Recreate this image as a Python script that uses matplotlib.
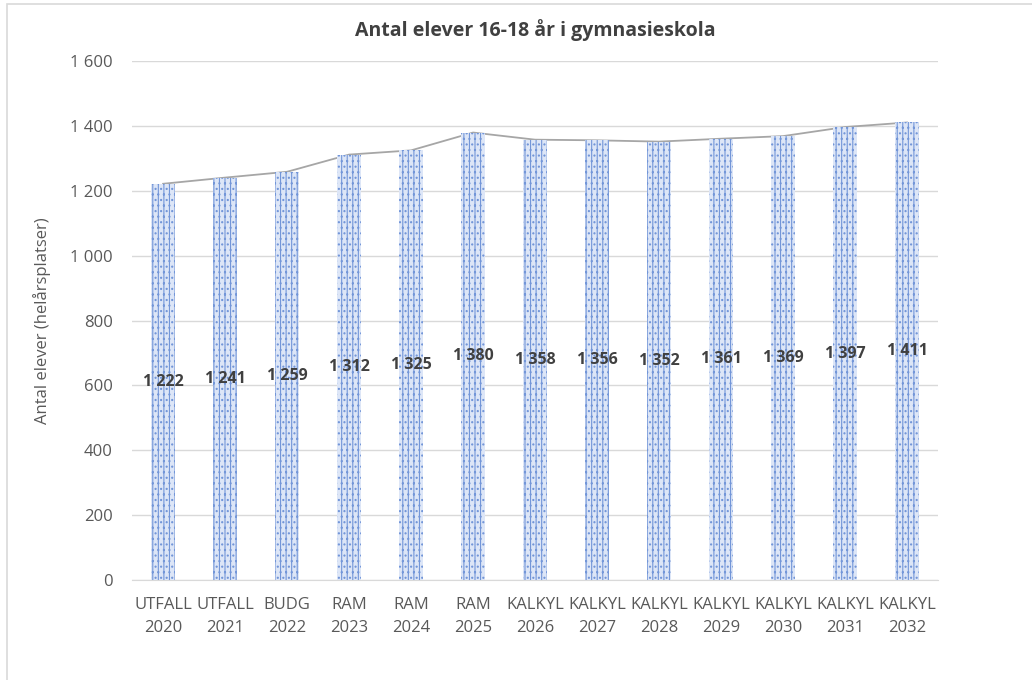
'''Antal elever 16-18 år i gymnasieskola'''

import matplotlib.pyplot as plt
from matplotlib.patches import Rectangle

# data
categories = ['UTFALL\n2020', 'UTFALL\n2021', 'BUDG\n2022', 'RAM\n2023', 'RAM\n2024',
              'RAM\n2025', 'KALKYL\n2026', 'KALKYL\n2027', 'KALKYL\n2028', 'KALKYL\n2029',
              'KALKYL\n2030', 'KALKYL\n2031', 'KALKYL\n2032']
elever = [1222, 1241, 1259, 1312, 1325, 1380, 1358, 1356, 1352, 1361, 1369, 1397, 1411]
yticks = [0, 200, 400, 600, 800, 1000, 1200, 1400, 1600]


def fmt(v):
    '''swedish thousands separator'''
    return f"{v:,}".replace(',', ' ')


def main():
    '''draw and save'''
    plt.rcParams['font.family'] = ['Open Sans', 'DejaVu Sans']
    plt.rcParams['hatch.linewidth'] = 0.8

    fig = plt.figure(figsize=(10.32, 6.8), dpi=100)
    ax = fig.add_axes([0.128, 0.147, 0.781, 0.763])

    # outer frame of the chart (only left and top visible)
    fig.patches.append(Rectangle((0.007, -0.1), 1.1, 1.094, transform=fig.transFigure,
                                 fill=False, edgecolor='#d9d9d9', linewidth=1.2))

    x = list(range(len(categories)))
    # line behind the bars
    ax.plot(x, elever, color='#a6a6a6', linewidth=1.3, zorder=2)
    # dotted blue fill: hatch takes the edge colour
    ax.bar(x, elever, width=0.4, color='#dde6f7', edgecolor='#7396d8',
           hatch='|||...', linewidth=0, zorder=3)

    for xi, v in zip(x, elever):
        ax.text(xi, v / 2, fmt(v), ha='center', va='center', fontsize=11.5,
                fontweight='bold', color='#404040', zorder=5)

    ax.set_xlim(-0.5, len(categories) - 0.5)
    ax.set_ylim(0, 1600)
    ax.set_yticks(yticks)
    ax.set_yticklabels([fmt(t) for t in yticks], fontsize=12, color='#595959')
    ax.set_xticks(x)
    ax.set_xticklabels(categories, fontsize=12, color='#595959', linespacing=1.6)
    ax.tick_params(length=0, pad=14)
    ax.tick_params(axis='x', pad=12)
    ax.grid(axis='y', color='#d9d9d9', linewidth=1.0, zorder=0)
    ax.set_axisbelow(True)
    for side in ['top', 'right', 'left']:
        ax.spines[side].set_visible(False)
    ax.spines['bottom'].set_color('#d9d9d9')
    ax.set_ylabel('Antal elever (helårsplatser)', fontsize=12, color='#595959', labelpad=14)
    ax.set_title('Antal elever 16-18 år i gymnasieskola', fontsize=14,
                 fontweight='bold', color='#404040', pad=18)

    fig.savefig('out.png', dpi=100)


if __name__ == '__main__':
    main()
